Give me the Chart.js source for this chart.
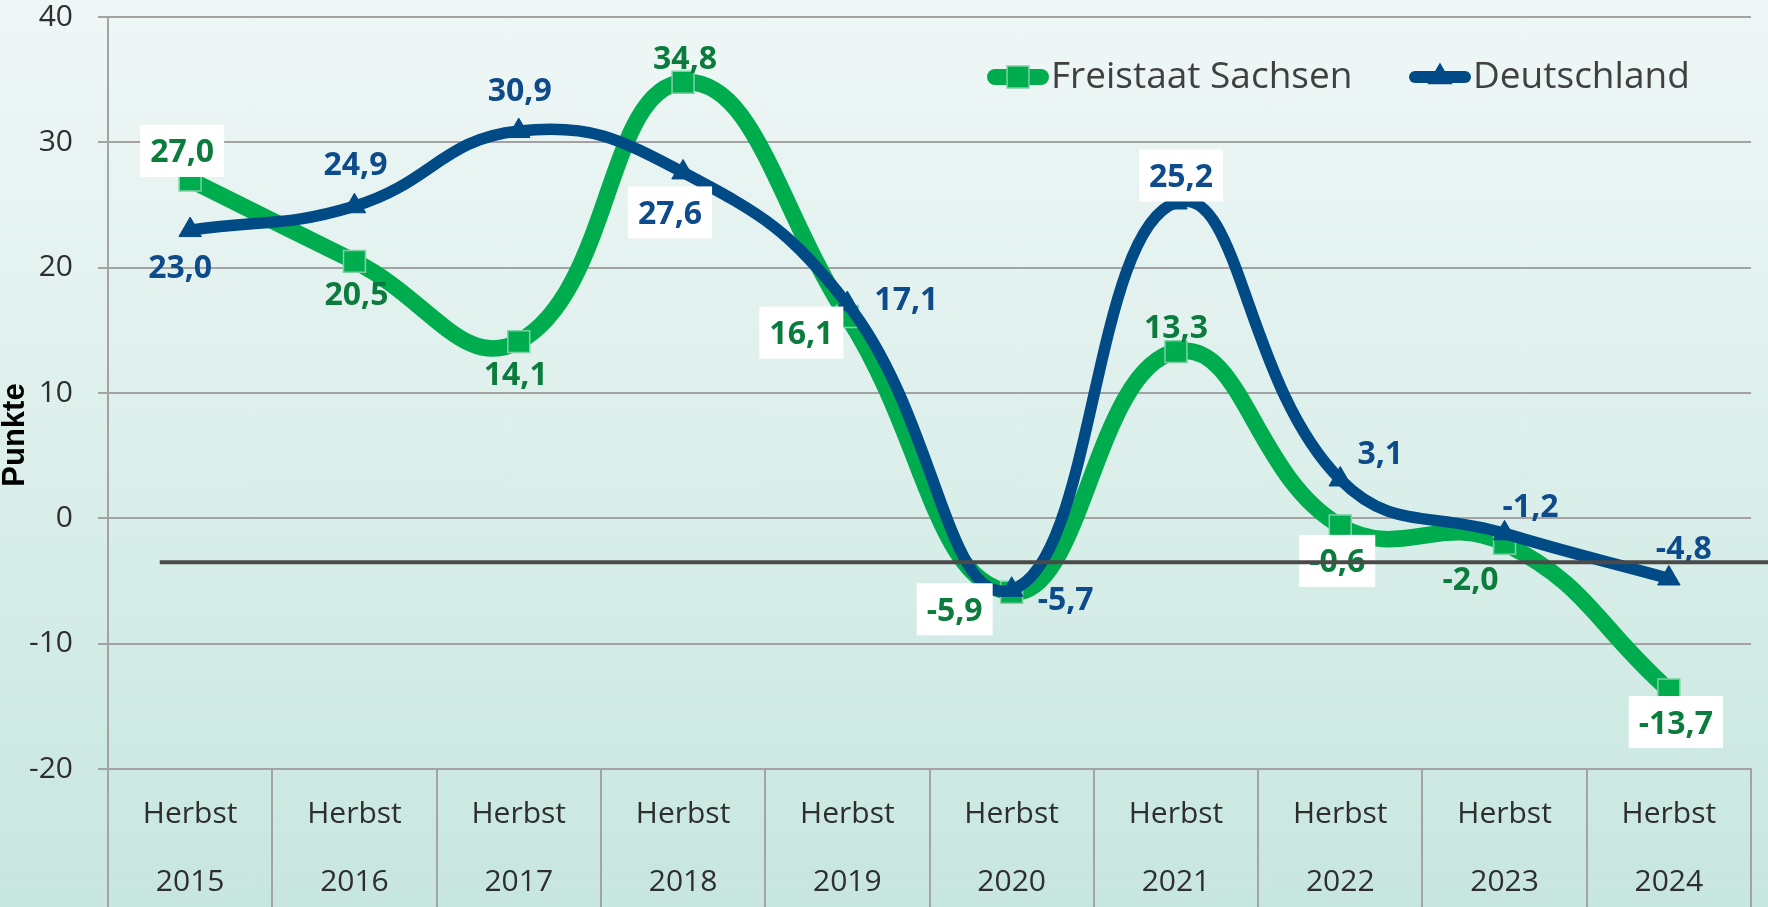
<!DOCTYPE html>
<html lang="de">
<head>
<meta charset="utf-8">
<title>Freistaat Sachsen und Deutschland</title>
<script src="https://cdn.jsdelivr.net/npm/chart.js@4/dist/chart.umd.min.js"></script>
<style>
    html, body { margin: 0; padding: 0; }
    #chart {
        display: block;
        background: linear-gradient(180deg, #eff7f6 0%, #dcefeb 50%, #c7e6df 100%);
    }
</style>
</head>
<body>
<canvas id="chart" width="1768" height="907"></canvas>
<script>
// Data
const years = ['2015', '2016', '2017', '2018', '2019', '2020', '2021', '2022', '2023', '2024'];
const season = 'Herbst';
const sachsen = [27.0, 20.5, 14.1, 34.8, 16.1, -5.9, 13.3, -0.6, -2.0, -13.7];
const deutschland = [23.0, 24.9, 30.9, 27.6, 17.1, -5.7, 25.2, 3.1, -1.2, -4.8];
const yTicks = [-20, -10, 0, 10, 20, 30, 40];
const refValue = -3.5;
const seriesNames = ['Freistaat Sachsen', 'Deutschland'];
const axisTitle = 'Punkte';

// Label placement (pixel offsets from the point) and white boxes
const sachsenLabelOffset = [[-8, -29], [2, 32], [-3, 32], [2, -25], [-46, 16], [-57, 17], [0, -25], [-3, 35], [-34, 35], [7, 32]];
const sachsenLabelBox = [true, false, false, false, true, true, false, true, false, true];
const deutschLabelOffset = [[-10, 36], [1, -43], [1, -42], [-13, 40], [59, -6], [54, 9], [5, -27], [40, -27], [26, -28], [15, -31]];
const deutschLabelBox = [false, false, false, true, false, false, true, false, false, false];

const GREEN = '#00ad4e';
const BLUE = '#004a86';
const GREEN_TEXT = '#0b7c3d';
const BLUE_TEXT = '#0d4b8b';
const GRID = '#a3a3a3';

const fmt = v => v.toFixed(1).replace('.', ',');

// Data labels
const labelPlugin = {
    id: 'valueLabels',
    afterDatasetsDraw(chart) {
        const ctx = chart.ctx;
        const sets = [
            { idx: 0, values: sachsen, offs: sachsenLabelOffset, box: sachsenLabelBox, color: GREEN_TEXT },
            { idx: 1, values: deutschland, offs: deutschLabelOffset, box: deutschLabelBox, color: BLUE_TEXT }
        ];
        ctx.save();
        ctx.font = 'bold 32px "Open Sans"';
        ctx.textAlign = 'center';
        ctx.textBaseline = 'alphabetic';
        sets.forEach(s => {
            const meta = chart.getDatasetMeta(s.idx);
            meta.data.forEach((pt, i) => {
                const cx = pt.x + s.offs[i][0];
                const cy = pt.y + s.offs[i][1];
                const text = fmt(s.values[i]);
                if (s.box[i]) {
                    const w = ctx.measureText(text).width + 20;
                    ctx.fillStyle = '#ffffff';
                    ctx.fillRect(cx - w / 2, cy - 26, w, 52);
                }
                ctx.fillStyle = s.color;
                ctx.fillText(text, cx, cy + 11.5);
            });
        });
        ctx.restore();
    }
};

// Horizontal reference line, axis title and legend
const extrasPlugin = {
    id: 'extras',
    afterDraw(chart) {
        const ctx = chart.ctx;
        const x = chart.scales.x;
        const y = chart.scales.y;

        // reference line
        const ry = y.getPixelForValue(refValue);
        ctx.save();
        ctx.strokeStyle = '#4a4a4a';
        ctx.lineWidth = 4;
        ctx.beginPath();
        ctx.moveTo(x.getPixelForValue(-0.185), ry);
        ctx.lineTo(chart.width, ry);
        ctx.stroke();

        // y axis title
        ctx.translate(15, 435);
        ctx.rotate(-Math.PI / 2);
        ctx.font = 'bold 31px "Liberation Sans"';
        ctx.fillStyle = '#000000';
        ctx.textAlign = 'center';
        ctx.textBaseline = 'middle';
        ctx.fillText(axisTitle, 0, 0);
        ctx.restore();

        // legend
        const items = [
            { x1: 987, x2: 1049, color: GREEN, width: 16, style: 'rect', radius: 15.5, border: '#7fd0a6', text: seriesNames[0] },
            { x1: 1409, x2: 1471, color: BLUE, width: 12, style: 'triangle', radius: 13, border: BLUE, text: seriesNames[1] }
        ];
        const ly = 77;
        ctx.save();
        items.forEach(it => {
            ctx.strokeStyle = it.color;
            ctx.lineWidth = it.width;
            ctx.lineCap = 'round';
            ctx.beginPath();
            ctx.moveTo(it.x1 + it.width / 2, ly);
            ctx.lineTo(it.x2 - it.width / 2, ly);
            ctx.stroke();
            ctx.fillStyle = it.color;
            ctx.strokeStyle = it.border;
            ctx.lineWidth = 1.5;
            Chart.helpers.drawPoint(ctx, { pointStyle: it.style, radius: it.radius, borderWidth: 1.5, rotation: 0 }, (it.x1 + it.x2) / 2, ly);
            ctx.font = '37px "Open Sans"';
            ctx.fillStyle = '#404040';
            ctx.textAlign = 'left';
            ctx.textBaseline = 'middle';
            ctx.fillText(it.text, it.x2 + 2, ly);
        });
        ctx.restore();
    }
};

new Chart(document.getElementById('chart'), {
    type: 'line',
    data: {
        labels: years.map(yr => [season, yr]),
        datasets: [
            {
                label: seriesNames[0],
                data: sachsen,
                borderColor: GREEN,
                backgroundColor: GREEN,
                borderWidth: 16.5,
                pointStyle: 'rect',
                pointRadius: 15.5,
                pointBackgroundColor: GREEN,
                pointBorderColor: '#7fd0a6',
                pointBorderWidth: 1.5,
                tension: 0.45,
                order: 2
            },
            {
                label: seriesNames[1],
                data: deutschland,
                borderColor: BLUE,
                backgroundColor: BLUE,
                borderWidth: 11.5,
                pointStyle: 'triangle',
                pointRadius: 13,
                pointBackgroundColor: BLUE,
                pointBorderColor: BLUE,
                pointBorderWidth: 1,
                tension: 0.45,
                order: 1
            }
        ]
    },
    options: {
        responsive: false,
        animation: false,
        events: [],
        layout: { padding: { top: 17, right: 9, bottom: 0, left: 0 } },
        plugins: {
            legend: { display: false },
            tooltip: { enabled: false }
        },
        scales: {
            x: {
                offset: true,
                grid: {
                    offset: true,
                    drawOnChartArea: false,
                    drawTicks: true,
                    tickLength: 138,
                    color: GRID,
                    lineWidth: 2
                },
                border: { display: true, color: GRID, width: 2 },
                ticks: {
                    maxRotation: 0,
                    autoSkip: false,
                    padding: -127,
                    color: '#2e2e2e',
                    font: { family: '"Open Sans"', size: 30, lineHeight: 68 / 30 }
                },
                afterFit: scale => {
                    scale.height = 138;
                    scale.paddingLeft = 0;
                    scale.paddingRight = 0;
                }
            },
            y: {
                min: yTicks[0],
                max: yTicks[yTicks.length - 1],
                grid: {
                    color: GRID,
                    lineWidth: 2,
                    drawTicks: true,
                    tickLength: 10
                },
                border: { display: true, color: GRID, width: 2 },
                ticks: {
                    stepSize: 10,
                    padding: 25,
                    color: '#2e2e2e',
                    font: { family: '"Open Sans"', size: 30, lineHeight: 1 }
                },
                afterBuildTicks: scale => { scale.ticks = yTicks.map(v => ({ value: v })); },
                afterFit: scale => {
                    scale.width = 108;
                    scale.paddingTop = 0;
                    scale.paddingBottom = 0;
                }
            }
        }
    },
    plugins: [labelPlugin, extrasPlugin]
});
</script>
</body>
</html>
